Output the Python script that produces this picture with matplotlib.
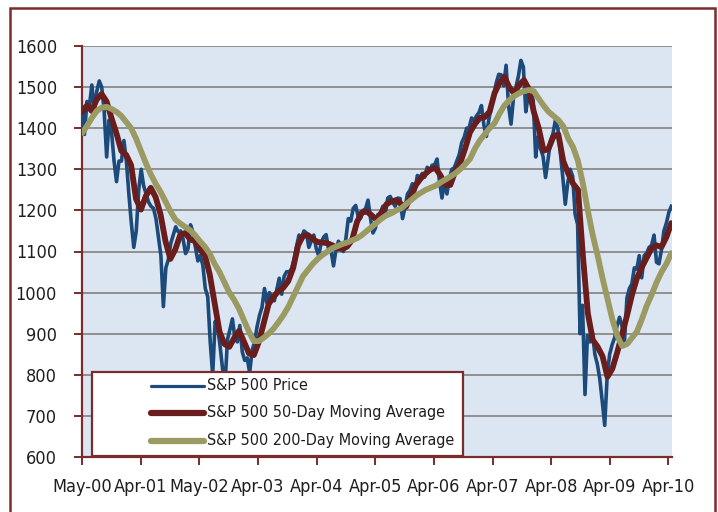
import numpy as np
import matplotlib
matplotlib.use("Agg")
import matplotlib.pyplot as plt
from matplotlib import font_manager as fm
from matplotlib.patches import Rectangle
from matplotlib.lines import Line2D

# the original uses a condensed face; take one if the machine has it
narrow = None
for f in fm.fontManager.ttflist:
    st = f.stretch
    if isinstance(st, str):
        st = {'ultra-condensed': 50, 'extra-condensed': 62, 'condensed': 75,
              'semi-condensed': 87}.get(st, 100)
    if st <= 87 and f.name in ('Liberation Sans Narrow', 'DejaVu Sans', 'Roboto',
                               'Open Sans', 'Noto Sans', 'Inter', 'Lato'):
        narrow = f.name
        break
if narrow:
    plt.rcParams['font.family'] = [narrow, 'DejaVu Sans']
    plt.rcParams['font.stretch'] = 'condensed'
    tick_size, leg_size = 13, 11.5
else:
    plt.rcParams['font.family'] = ['Liberation Sans', 'DejaVu Sans']
    tick_size, leg_size = 11, 9.5

# S&P 500 price, two readings per month, May-2000 .. Apr-2010
price = [
    1450, 1385, 1465, 1455, 1505, 1440, 1490, 1515, 1500, 1440, 1330, 1420,
    1390, 1320, 1270, 1320, 1320, 1370, 1320, 1240, 1170, 1110, 1150, 1250,
    1300, 1260, 1240, 1220, 1210, 1205, 1180, 1135, 1090, 966, 1060, 1080,
    1120, 1140, 1160, 1148, 1150, 1130, 1095, 1107, 1165, 1147, 1110, 1077,
    1090, 1067, 1010, 990, 880, 800, 930, 916, 870, 815, 776, 886,
    910, 936, 890, 880, 920, 856, 835, 841, 805, 860, 880, 917,
    945, 964, 1010, 975, 1000, 990, 980, 1008, 1035, 996, 1040, 1051,
    1050, 1058, 1080, 1112, 1140, 1131, 1150, 1145, 1110, 1126, 1140, 1107,
    1090, 1121, 1135, 1141, 1105, 1102, 1065, 1104, 1125, 1115, 1100, 1130,
    1180, 1174, 1205, 1212, 1185, 1181, 1200, 1204, 1225, 1181, 1145, 1157,
    1190, 1192, 1210, 1191, 1230, 1234, 1220, 1210, 1230, 1229, 1180, 1207,
    1240, 1249, 1265, 1248, 1285, 1280, 1290, 1281, 1305, 1295, 1310, 1311,
    1325, 1270, 1230, 1270, 1240, 1277, 1300, 1304, 1320, 1336, 1365, 1378,
    1400, 1401, 1425, 1418, 1430, 1438, 1455, 1407, 1380, 1421, 1450, 1482,
    1510, 1531, 1530, 1503, 1553, 1455, 1410, 1474, 1500, 1527, 1565, 1549,
    1440, 1481, 1490, 1468, 1330, 1379, 1350, 1331, 1280, 1323, 1370, 1386,
    1420, 1400, 1340, 1280, 1215, 1267, 1300, 1283, 1190, 1166, 900, 969,
    752, 896, 880, 903, 850, 826, 790, 735, 677, 798, 850, 873,
    890, 919, 940, 919, 880, 987, 1010, 1021, 1060, 1057, 1090, 1036,
    1090, 1096, 1110, 1115, 1140, 1074, 1070, 1104, 1150, 1169, 1195, 1210,
]

# 50-day moving average, one reading per month
ma50 = [
    1440, 1455, 1442, 1470, 1483, 1465, 1425, 1388, 1345, 1335, 1310, 1228,
    1202, 1235, 1255, 1232, 1190, 1125, 1082, 1105, 1140, 1145, 1130, 1125,
    1105, 1092, 1045, 975, 905, 875, 868, 890, 907, 880, 852, 848,
    880, 925, 972, 990, 1003, 1012, 1028, 1060, 1115, 1138, 1140, 1130,
    1123, 1122, 1120, 1115, 1108, 1106, 1112, 1128, 1172, 1195, 1197, 1188,
    1177, 1195, 1215, 1222, 1225, 1215, 1209, 1235, 1262, 1278, 1290, 1300,
    1303, 1285, 1262, 1262, 1295, 1315, 1350, 1390, 1410, 1425, 1427, 1440,
    1485, 1510, 1525, 1500, 1485, 1505, 1517, 1495, 1440, 1400, 1345, 1350,
    1380, 1385, 1320, 1290, 1265, 1250, 1090, 950, 885, 868, 845, 795,
    815, 855, 900, 945, 995, 1035, 1062, 1085, 1108, 1115, 1111, 1135,
    1169,
]

# 200-day moving average, one reading per month
ma200 = [
    1388, 1405, 1425, 1442, 1450, 1452, 1447, 1440, 1430, 1415, 1400, 1375,
    1345, 1315, 1288, 1265, 1245, 1222, 1198, 1178, 1168, 1160, 1152, 1140,
    1125, 1112, 1095, 1070, 1050, 1025, 1000, 982, 960, 932, 905, 882,
    882, 890, 900, 912, 928, 945, 965, 990, 1015, 1040, 1055, 1070,
    1082, 1092, 1100, 1108, 1113, 1118, 1122, 1127, 1132, 1140, 1150, 1160,
    1170, 1180, 1188, 1193, 1200, 1205, 1215, 1225, 1235, 1243, 1250, 1255,
    1260, 1268, 1275, 1282, 1290, 1300, 1312, 1325, 1350, 1370, 1385, 1400,
    1412, 1435, 1455, 1468, 1478, 1485, 1490, 1493, 1490, 1472, 1455, 1440,
    1430, 1420, 1405, 1375, 1354, 1320, 1265, 1200, 1140, 1090, 1035, 985,
    935, 895, 870, 875, 890, 905, 935, 968, 995, 1025, 1050, 1070,
    1096,
]

tick_labels = ['May-00', 'Apr-01', 'May-02', 'Apr-03', 'Apr-04', 'Apr-05',
               'Apr-06', 'Apr-07', 'Apr-08', 'Apr-09', 'Apr-10']

# trading-day axis, one tick every 250 sessions
x_end = 2512
x_price = np.linspace(0, x_end, len(price))
x_ma = np.linspace(0, x_end, len(ma50))

blue = '#1b4a7b'
maroon = '#6a1d1d'
olive = '#9b9a62'
frame = '#7a2b2b'
ink = '#1e1e1e'

fig = plt.figure(figsize=(7.18, 5.12), dpi=100)
ax = fig.add_axes([82 / 718, 1 - 457 / 512, 590 / 718, 411 / 512])
ax.set_facecolor('#dce6f2')

ax.plot(x_price, price, color=blue, lw=2.6, zorder=3, solid_joinstyle='round')
ax.plot(x_ma, ma50, color=maroon, lw=4.2, zorder=4, solid_capstyle='round',
        solid_joinstyle='round')
ax.plot(x_ma, ma200, color=olive, lw=4.2, zorder=5, solid_capstyle='round',
        solid_joinstyle='round')

ax.set_xlim(0, 2515)
ax.set_ylim(600, 1600)
ax.set_yticks(range(600, 1601, 100))
ax.set_xticks(np.arange(len(tick_labels)) * 250)
ax.set_xticklabels(tick_labels)
ax.yaxis.grid(True, color='#8f8f8f', lw=1.4)
ax.set_axisbelow(True)

for s in ['top', 'right']:
    ax.spines[s].set_visible(False)
for s in ['left', 'bottom']:
    ax.spines[s].set_color(frame)
    ax.spines[s].set_linewidth(1.6)
ax.tick_params(axis='y', colors=frame, length=6, width=1.4, pad=12,
               labelsize=tick_size, labelcolor=ink)
ax.tick_params(axis='x', colors=frame, length=6, width=1.4, pad=9,
               labelsize=tick_size, labelcolor=ink)

# legend box drawn by hand so it can be as wide as the original
lx0, ly0 = (92 - 82) / 590, (457 - 456) / 411
lw_box, lh_box = (463 - 92) / 590, (456 - 372) / 411
ax.add_patch(Rectangle((lx0, ly0), lw_box, lh_box, transform=ax.transAxes,
                       facecolor='white', edgecolor=frame, lw=1.6, zorder=10))
entries = [
    ('S&P 500 Price', blue, 2.3),
    ('S&P 500 50-Day Moving Average', maroon, 4.5),
    ('S&P 500 200-Day Moving Average', olive, 4.5),
]
rows_px = [386, 413, 441]
hx0, hx1, tx = (151 - 82) / 590, (204 - 82) / 590, (207 - 82) / 590
for (label, col, w), ypx in zip(entries, rows_px):
    yy = (457 - ypx) / 411
    ax.add_line(Line2D([hx0, hx1], [yy, yy], transform=ax.transAxes,
                       color=col, lw=w, solid_capstyle='round', zorder=11))
    ax.text(tx, yy, label, transform=ax.transAxes, fontsize=leg_size,
            color=ink, va='center', ha='left', zorder=11)

# outer frame of the exhibit
fig.patches.append(Rectangle((10 / 718, -0.05), 705 / 718, 1.05 - 8 / 512,
                             transform=fig.transFigure, fill=False,
                             edgecolor=frame, lw=1.8))

fig.savefig('out.png', dpi=100)
